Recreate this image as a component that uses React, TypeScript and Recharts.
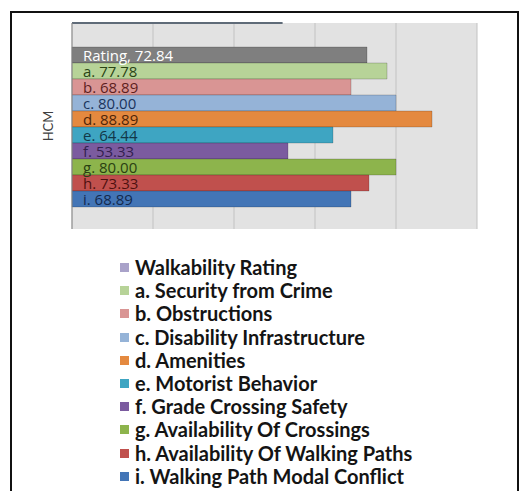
import {
  BarChart,
  Bar,
  XAxis,
  YAxis,
  CartesianGrid,
  Legend,
  LabelList,
  ReferenceLine,
} from 'recharts'

// single category, one bar per walkability factor
const category = 'HCM'
const seriesKeys = ['rating', 'a', 'b', 'c', 'd', 'e', 'f', 'g', 'h', 'i']
const seriesValues = [72.84, 77.78, 68.89, 80.0, 88.89, 64.44, 53.33, 80.0, 73.33, 68.89]
const labelPrefixes = ['Rating,', 'a.', 'b.', 'c.', 'd.', 'e.', 'f.', 'g.', 'h.', 'i.']
const legendNames = [
  'Walkability Rating',
  'a. Security from Crime',
  'b. Obstructions',
  'c. Disability Infrastructure',
  'd. Amenities',
  'e. Motorist Behavior',
  'f. Grade Crossing Safety',
  'g. Availability Of Crossings',
  'h. Availability Of Walking Paths',
  'i. Walking Path Modal Conflict',
]
const barColors = [
  '#7f7f7f',
  '#b7d398',
  '#d99594',
  '#95b3d7',
  '#e4893f',
  '#3ea5c2',
  '#7b5b9f',
  '#8db44c',
  '#c0504d',
  '#4375b6',
]
const labelColors = [
  '#ffffff',
  '#2a4414',
  '#5e1e1e',
  '#1a335c',
  '#4f2508',
  '#123848',
  '#33204f',
  '#2a3f12',
  '#4f1110',
  '#142a4e',
]
const legendColors = ['#a9a2c9', ...barColors.slice(1)]
const xTicks = [0, 20, 40, 60, 80, 100]
const edgeTicks = [0, 1]
const topEdgeValue = 52

const row: Record<string, string | number> = { name: category }
seriesKeys.forEach((k, i) => {
  row[k] = seriesValues[i]
})
const data = [row]

const CategoryTick = ({ x, y, payload }: { x?: number; y?: number; payload?: { value: string } }) => (
  <text
    x={x}
    y={y}
    transform={`rotate(-90 ${x} ${y})`}
    textAnchor="middle"
    style={{ fontFamily: 'Lato, sans-serif', fontSize: 13 }}
    fill="#404040"
  >
    {payload?.value}
  </text>
)

// value label drawn at the left end of each bar
const makeBarLabel = (i: number) =>
  function BarLabel(props: { x?: number | string; y?: number | string; height?: number | string; value?: number | string }) {
    const x = Number(props.x)
    const y = Number(props.y)
    const h = Number(props.height)
    return (
      <text
        x={x + 11}
        y={y + h / 2}
        dy="0.42em"
        fill={labelColors[i]}
        style={{ fontFamily: '"Open Sans", sans-serif', fontSize: 15, fontWeight: 500 }}
      >
        {`${labelPrefixes[i]} ${Number(props.value).toFixed(2)}`}
      </text>
    )
  }

const renderLegend = () => (
  <div style={{ fontFamily: 'Lato, sans-serif', fontWeight: 700, fontSize: 20, color: '#141414' }}>
    {legendNames.map((name, i) => (
      <div key={name} style={{ display: 'flex', alignItems: 'center', height: 23.2 }}>
        <span
          style={{ width: 9, height: 9, background: legendColors[i], marginRight: 6, flexShrink: 0 }}
        />
        <span style={{ whiteSpace: 'nowrap', lineHeight: '23px' }}>{name}</span>
      </div>
    ))}
  </div>
)

export default function App() {
  return (
    <div
      style={{
        position: 'absolute',
        left: 0,
        top: 0,
        width: 520,
        height: 491,
        background: '#fff',
        overflow: 'hidden',
      }}
    >
      <div
        style={{
          position: 'absolute',
          left: 10,
          top: 11,
          width: 509,
          height: 520,
          border: '2px solid #111',
          boxSizing: 'border-box',
        }}
      />
      <div style={{ position: 'absolute', left: 0, top: 0 }}>
        <BarChart
          width={520}
          height={491}
          data={data}
          layout="vertical"
          margin={{ top: 23, right: 43, bottom: 262, left: 12 }}
          barCategoryGap={24}
          barGap={0}
        >
          <CartesianGrid horizontal={false} fill="#e2e2e2" fillOpacity={1} stroke="#c2c2c2" />
          <XAxis type="number" domain={[0, 100]} ticks={xTicks} hide />
          <YAxis
            yAxisId="edge"
            type="number"
            domain={[-0.06, 1.06]}
            ticks={edgeTicks}
            width={0}
            tick={() => <g />}
            axisLine={false}
            tickSize={5}
            tickLine={{ stroke: '#8a8a8a' }}
          />
          <YAxis
            type="category"
            dataKey="name"
            width={60}
            axisLine={{ stroke: '#8a8a8a' }}
            tickLine={false}
            tickMargin={13}
            tick={<CategoryTick />}
          />
          <ReferenceLine
            segment={[
              { x: 0, y: category },
              { x: topEdgeValue, y: category },
            ]}
            position="start"
            stroke="#5f6b78"
            strokeWidth={2}
            ifOverflow="visible"
          />
          {seriesKeys.map((key, i) => (
            <Bar
              key={key}
              dataKey={key}
              name={legendNames[i]}
              fill={barColors[i]}
              stroke="rgba(0,0,0,0.18)"
              strokeWidth={1}
              isAnimationActive={false}
            >
              <LabelList dataKey={key} content={makeBarLabel(i)} />
            </Bar>
          ))}
          <Legend
            content={renderLegend}
            layout="vertical"
            align="center"
            verticalAlign="middle"
            wrapperStyle={{ left: 120, top: 256, width: 390 }}
          />
        </BarChart>
      </div>
    </div>
  )
}
